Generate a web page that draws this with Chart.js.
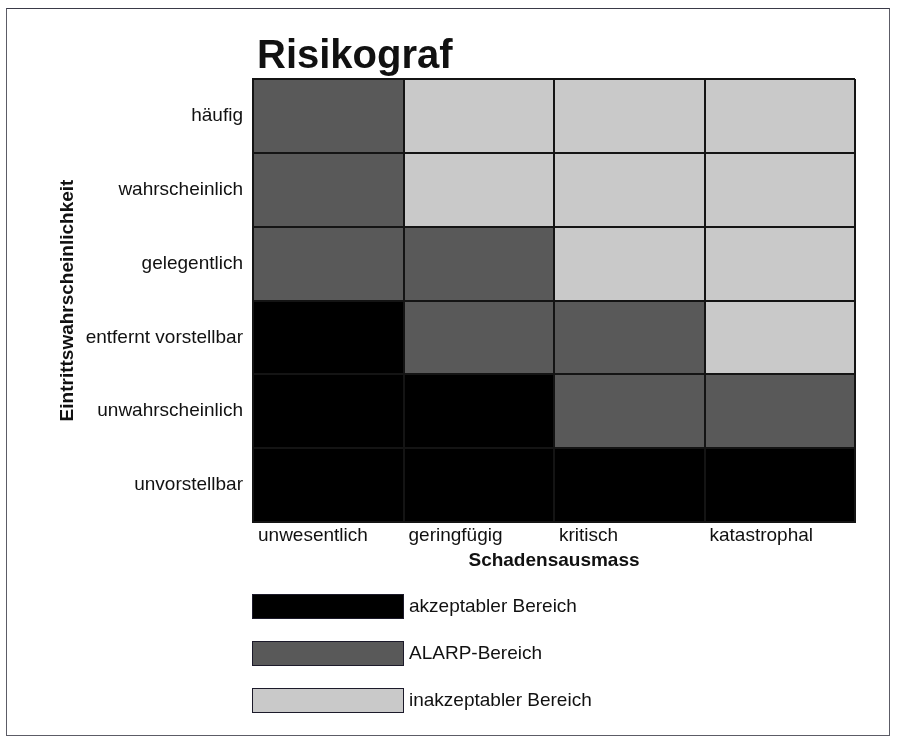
<!DOCTYPE html>
<html lang="de">
<head>
<meta charset="utf-8">
<title>Risikograf</title>
<script src="https://cdn.jsdelivr.net/npm/chart.js@4.4.1/dist/chart.umd.min.js"></script>
<style>
	html, body { margin: 0; padding: 0; background: #fff; }
	body { width: 898px; height: 740px; position: relative; overflow: hidden; font-family: "Liberation Sans", Arial, sans-serif; color: #111; }
	.frame { position: absolute; left: 6px; top: 8px; width: 882px; height: 726px; border: 1.5px solid #5c5c66; border-top-color: #3a3a48; }
	#chart { position: absolute; left: 0; top: 0; }
	h1 { position: absolute; left: 257px; top: 34px; margin: 0; font-size: 40px; line-height: 40px; font-weight: bold; }
	#legend { position: absolute; left: 252px; top: 593px; margin: 0; padding: 0; list-style: none; }
	#legend li { display: flex; align-items: center; height: 26px; margin-bottom: 21px; font-size: 19px; }
	#legend .box { width: 150px; height: 23px; border: 1.5px solid #1c1a2a; margin-right: 5px; }
</style>
</head>
<body>
<div class="frame"></div>
<canvas id="chart" width="898" height="740"></canvas>
<h1>Risikograf</h1>
<ul id="legend"></ul>
<script>
	// Eintrittswahrscheinlichkeit (oben nach unten)
	const probabilities = ['häufig', 'wahrscheinlich', 'gelegentlich', 'entfernt vorstellbar', 'unwahrscheinlich', 'unvorstellbar'];
	// Schadensausmass (links nach rechts)
	const severities = ['unwesentlich', 'geringfügig', 'kritisch', 'katastrophal'];
	const zones = ['akzeptabler Bereich', 'ALARP-Bereich', 'inakzeptabler Bereich'];
	const zoneColors = ['#000000', '#595959', '#c9c9c9'];
	// 0 = akzeptabel, 1 = ALARP, 2 = inakzeptabel
	const levels = [
		[1, 2, 2, 2],
		[1, 2, 2, 2],
		[1, 1, 2, 2],
		[0, 1, 1, 2],
		[0, 0, 1, 1],
		[0, 0, 0, 0]
	];

	const font = '"Liberation Sans", Arial, sans-serif';

	const datasets = zones.map((zone, k) => {
		const data = [];
		levels.forEach((row, r) => {
			row.forEach((level, c) => {
				if (level === k) {
					data.push({ y: probabilities[r], x: [c, c + 1] });
				}
			});
		});
		return {
			label: zone,
			data,
			backgroundColor: zoneColors[k],
			borderWidth: 0,
			barPercentage: 1,
			categoryPercentage: 1,
			grouped: false
		};
	});

	const chart = new Chart(document.getElementById('chart'), {
		type: 'bar',
		data: { labels: probabilities, datasets },
		options: {
			indexAxis: 'y',
			responsive: false,
			animation: false,
			layout: { padding: { top: 79, left: 40, right: 43, bottom: 150 } },
			plugins: {
				legend: { display: false },
				tooltip: { enabled: false }
			},
			scales: {
				x: {
					type: 'linear',
					min: 0,
					max: severities.length,
					afterBuildTicks: scale => {
						scale.ticks = severities.map((s, i) => ({ value: i })).concat([{ value: severities.length }]);
					},
					afterFit: scale => { scale.height = 68; },
					grid: { color: '#141414', lineWidth: 2, drawTicks: false, z: 1 },
					border: { color: '#141414', width: 2, z: 1 },
					ticks: {
						align: 'start',
						labelOffset: 5,
						padding: 2,
						color: '#111',
						font: { family: font, size: 19 },
						callback: (value, i) => severities[i] || ''
					},
					title: {
						display: true,
						text: 'Schadensausmass',
						color: '#111',
						font: { family: font, size: 19, weight: 'bold' },
						padding: { top: 4, bottom: 18 }
					}
				},
				y: {
					type: 'category',
					afterFit: scale => { scale.width = 213; },
					grid: { color: '#141414', lineWidth: 2, drawTicks: false, offset: true, z: 1 },
					border: { color: '#141414', width: 2, z: 1 },
					ticks: {
						padding: 10,
						color: '#111',
						font: { family: font, size: 19 }
					},
					title: {
						display: true,
						text: 'Eintrittswahrscheinlichkeit',
						color: '#111',
						font: { family: font, size: 19, weight: 'bold' },
						padding: { top: 16, bottom: 0 }
					}
				}
			}
		}
	});

	// Legende aus den Datensätzen
	const legend = document.getElementById('legend');
	chart.data.datasets.forEach(ds => {
		const li = document.createElement('li');
		const box = document.createElement('span');
		box.className = 'box';
		box.style.background = ds.backgroundColor;
		li.appendChild(box);
		li.appendChild(document.createTextNode(ds.label));
		legend.appendChild(li);
	});
</script>
</body>
</html>
